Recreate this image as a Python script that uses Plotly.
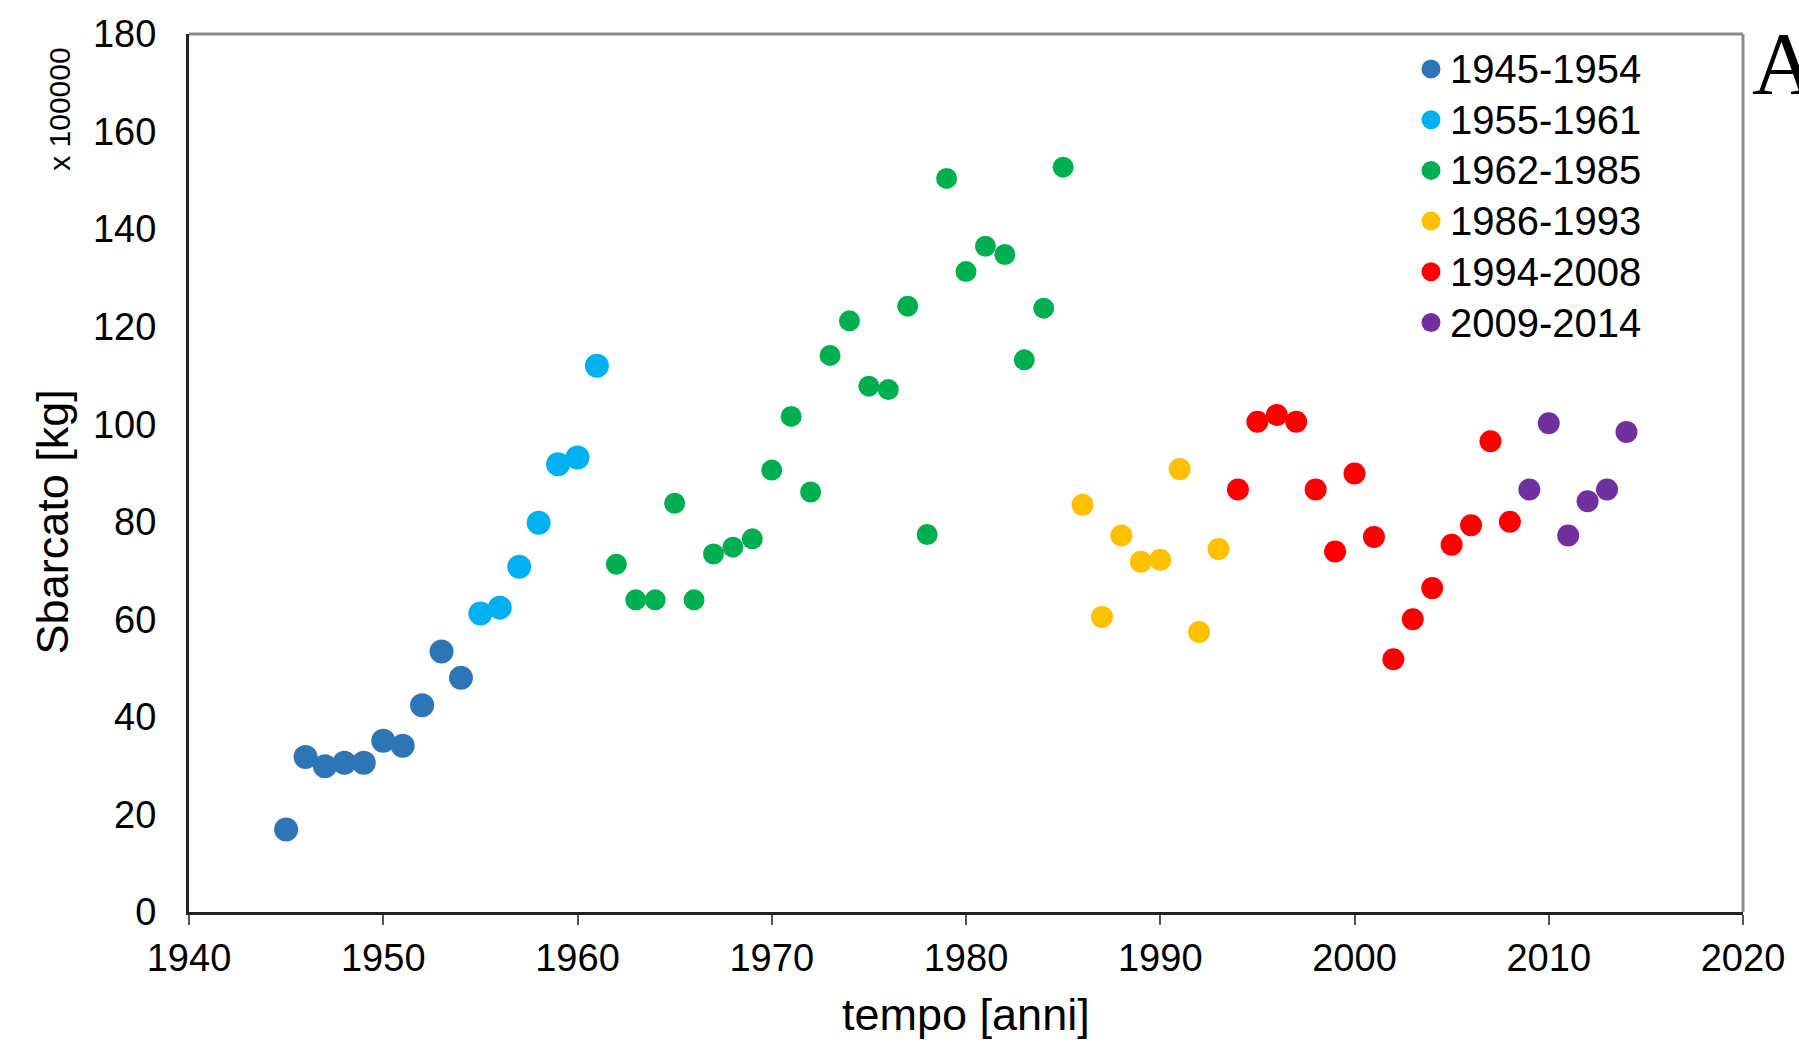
import plotly.graph_objects as go

# ---- data (values in units of 100000 kg) ----
years_1 = [1945, 1946, 1947, 1948, 1949, 1950, 1951, 1952, 1953, 1954]
vals_1 = [16.9, 31.8, 29.9, 30.6, 30.6, 35.1, 34.1, 42.4, 53.4, 48.0]

years_2 = [1955, 1956, 1957, 1958, 1959, 1960, 1961]
vals_2 = [61.2, 62.4, 70.8, 79.8, 91.8, 93.2, 112.0]

years_3 = list(range(1962, 1986))
vals_3 = [71.3, 64.0, 64.0, 83.8, 64.0, 73.4, 74.8, 76.5, 90.6, 101.6, 86.1, 114.1,
          121.2, 107.8, 107.1, 124.2, 77.4, 150.4, 131.3, 136.5, 134.8, 113.2, 123.8, 152.7]

years_4 = list(range(1986, 1994))
vals_4 = [83.5, 60.5, 77.2, 71.8, 72.2, 90.8, 57.4, 74.4]

years_5 = list(range(1994, 2009))
vals_5 = [86.6, 100.5, 101.9, 100.5, 86.6, 73.9, 89.9, 76.9, 51.8, 60.0, 66.4, 75.3,
          79.3, 96.5, 80.0]

years_6 = list(range(2009, 2015))
vals_6 = [86.6, 100.2, 77.2, 84.2, 86.6, 98.4]

series_names = ["1945-1954", "1955-1961", "1962-1985", "1986-1993", "1994-2008", "2009-2014"]
series_colors = ["#2E75B6", "#00B0F0", "#00B050", "#FFC000", "#FF0000", "#7030A0"]
series_sizes = [24, 24, 21, 22, 22, 22]

x_ticks = [1940, 1950, 1960, 1970, 1980, 1990, 2000, 2010, 2020]
y_ticks = [0, 20, 40, 60, 80, 100, 120, 140, 160, 180]

all_x = [years_1, years_2, years_3, years_4, years_5, years_6]
all_y = [vals_1, vals_2, vals_3, vals_4, vals_5, vals_6]

FONT = "Liberation Sans, Arial, sans-serif"

W, H = 1799, 1049
ML, MR, MT, MB = 189, 56, 34, 137
PW, PH = W - ML - MR, H - MT - MB


def px_to_paper(xp, yp):
    return (xp - ML) / PW, 1 - (yp - MT) / PH


fig = go.Figure()
for xs, ys, name, col, sz in zip(all_x, all_y, series_names, series_colors, series_sizes):
    fig.add_trace(go.Scatter(
        x=xs, y=ys, mode="markers", name=name, showlegend=False,
        marker=dict(color=col, size=sz, line=dict(width=0)),
    ))

fig.update_layout(
    width=W, height=H,
    margin=dict(l=ML, r=MR, t=MT, b=MB),
    paper_bgcolor="white", plot_bgcolor="white",
    font=dict(family=FONT, color="black", size=38),
    showlegend=False,
    xaxis=dict(
        range=[1940, 2020], tickvals=x_ticks, ticktext=[str(v) for v in x_ticks],
        showgrid=False, zeroline=False,
        showline=True, linecolor="#222222", linewidth=3,
        ticks="outside", ticklen=10, tickwidth=2, tickcolor="#555555",
        tickfont=dict(size=38, family=FONT, color="black"),
    ),
    yaxis=dict(
        range=[0, 180], tickvals=y_ticks, ticktext=[str(v) for v in y_ticks],
        showgrid=False, zeroline=False,
        showline=True, linecolor="#222222", linewidth=3,
        ticks="", ticklabelstandoff=22,
        tickfont=dict(size=38, family=FONT, color="black"),
    ),
)

# grey frame top/right
fig.add_shape(type="line", xref="paper", yref="paper", x0=0, x1=1, y0=1, y1=1,
              line=dict(color="#8C8C8C", width=3))
fig.add_shape(type="line", xref="paper", yref="paper", x0=1, x1=1, y0=0, y1=1,
              line=dict(color="#8C8C8C", width=3))

# legend (drawn manually for exact row spacing)
LEG_X_MARK, LEG_X_TEXT, LEG_Y0, LEG_DY, LEG_R = 1431, 1448, 69, 50.7, 9.5
for i, (name, col) in enumerate(zip(series_names, series_colors)):
    yp = LEG_Y0 + i * LEG_DY
    mx, my = px_to_paper(LEG_X_MARK, yp)
    fig.add_shape(type="circle", xref="paper", yref="paper",
                  xsizemode="pixel", ysizemode="pixel", xanchor=mx, yanchor=my,
                  x0=-LEG_R, x1=LEG_R, y0=-LEG_R, y1=LEG_R,
                  fillcolor=col, line=dict(width=0))
    tx, ty = px_to_paper(LEG_X_TEXT, yp)
    fig.add_annotation(text=name, xref="paper", yref="paper", x=tx, y=ty,
                       xanchor="left", yanchor="middle", showarrow=False,
                       font=dict(size=40, family=FONT, color="black"))

# axis titles
fig.add_annotation(text="tempo [anni]", xref="paper", yref="paper",
                   x=0.5, y=-0.117, xanchor="center", yanchor="middle",
                   showarrow=False, font=dict(size=45, family=FONT, color="black"))
fig.add_annotation(text="Sbarcato [kg]", xref="paper", yref="paper",
                   x=-0.088, y=0.444, xanchor="center", yanchor="middle",
                   textangle=-90, showarrow=False,
                   font=dict(size=45, family=FONT, color="black"))

fig.add_annotation(text="x 100000", xref="paper", yref="paper",
                   x=-0.083, y=0.986, xanchor="center", yanchor="top",
                   textangle=-90, showarrow=False,
                   font=dict(size=30, family=FONT, color="black"))
fig.add_annotation(text="A", xref="paper", yref="paper",
                   x=1.0, y=1.025, xanchor="left", yanchor="top", xshift=7,
                   showarrow=False,
                   font=dict(size=89, family="Liberation Serif, DejaVu Serif, serif", color="black"))

fig.write_html("out.html")
